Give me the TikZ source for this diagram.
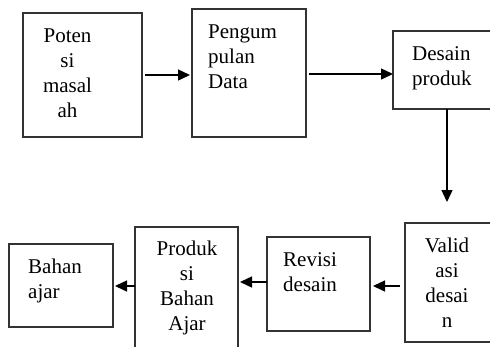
\documentclass[tikz,border=0pt]{standalone}
\usepackage{fontspec}
\setmainfont{Liberation Serif}
\usetikzlibrary{arrows.meta,calc}
\begin{document}
\begin{tikzpicture}[x=1pt,y=-1pt,
  boxs/.style={draw=black!80,line width=1.3pt},
  txt/.style={font=\fontsize{21}{25}\selectfont,inner sep=0pt,anchor=base},
  arr/.style={line width=1.4pt,-{Triangle[length=12pt,width=11pt]}}]
\useasboundingbox (0,0) rectangle (490,346);
\clip (0,0) rectangle (490,346);
% boxes
\draw[boxs] (23,13) rectangle (142,137);
\coordinate (b1w) at (23,75); \coordinate (b1e) at (142,75);
\draw[boxs] (192,9) rectangle (306,137);
\coordinate (b2w) at (192,74); \coordinate (b2e) at (306,74);
\draw[boxs] (393,31) rectangle (500,109);
\coordinate (b3w) at (393,74); \coordinate (b3s) at (447,109);
\draw[boxs] (405,223) rectangle (500,342);
\coordinate (b4n) at (447,223); \coordinate (b4w) at (405,286);
\draw[boxs] (267,237) rectangle (370,331);
\coordinate (b5e) at (370,286); \coordinate (b5w) at (267,282);
\draw[boxs] (135,227) rectangle (238,360);
\coordinate (b6e) at (238,282); \coordinate (b6w) at (135,286);
\draw[boxs] (9,244) rectangle (113,327);
\coordinate (b7e) at (113,286);
% texts (anchor at baseline of last line)
\node[txt,align=center] (t1) at (67.5,117) {Poten\\si\\masal\\ah};
\node[txt,align=left,anchor=base west] (t2) at (208,88) {Pengum\\pulan\\Data};
\node[txt,align=left,anchor=base west] (t3) at (412,85) {Desain\\produk};
\node[txt,align=center] (t4) at (447,327) {Valid\\asi\\desai\\n};
\node[txt,align=left,anchor=base west] (t5) at (283,291) {Revisi\\desain};
\node[txt,align=center] (t6) at (187,330) {Produk\\si\\Bahan\\Ajar};
\node[txt,align=left,anchor=base west] (t7) at (28,298) {Bahan\\ajar};
% arrows
\draw[arr] ([xshift=3pt]b1e) -- ([xshift=-2pt]b1e -| b2w);
\draw[arr] ([xshift=3pt]b2e) -- (b2e -| b3w);
\draw[arr] (b3s) -- ([yshift=21pt]b4n);
\draw[arr] ([xshift=-5pt]b4w) -- ([xshift=3pt]b5e);
\draw[arr] (b5w) -- ([xshift=2pt]b6e);
\draw[arr] (b6w) -- ([xshift=2pt]b7e);
\end{tikzpicture}
\end{document}
